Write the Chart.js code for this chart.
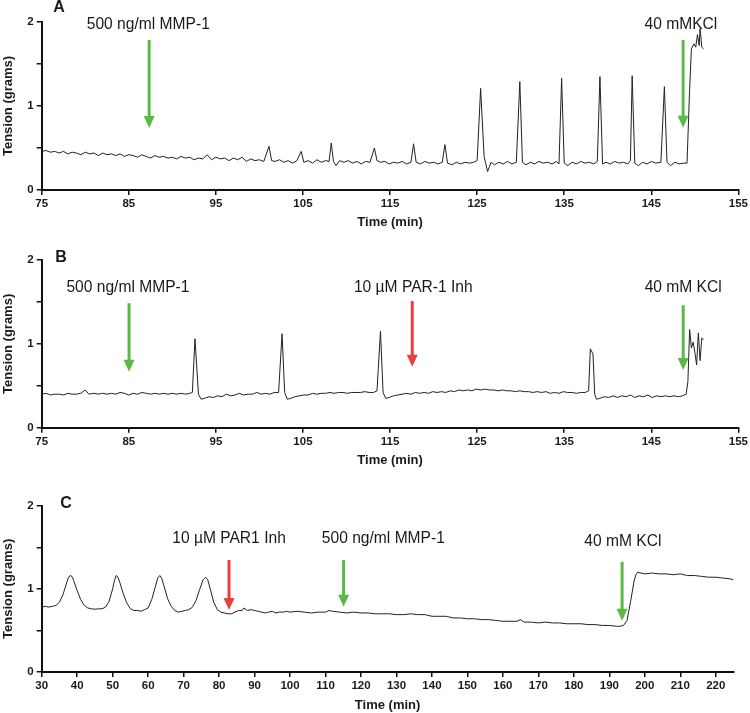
<!DOCTYPE html>
<html lang="en">

<head>
    <meta charset="UTF-8">
    <title>Tension traces</title>
    <script src="https://cdn.jsdelivr.net/npm/chart.js"></script>
    <style>
        body { margin: 0; background: #fff; }
        .wrap { position: relative; width: 750px; height: 713px; }
        .wrap canvas { position: absolute; left: 0; }
    </style>
</head>

<body>
    <div class="wrap">
        <canvas id="panelA" width="750" height="230" style="top:0px"></canvas>
        <canvas id="panelB" width="750" height="240" style="top:230px"></canvas>
        <canvas id="panelC" width="750" height="253" style="top:460px"></canvas>
    </div>
</body>

</html>
<script>
    // ---- panel A : MMP-1 then KCl
    var timeA = [75.0, 75.5, 76.0, 76.5, 77.0, 77.5, 78.0, 78.5, 79.0, 79.5, 80.0, 80.5, 81.0, 81.5, 82.0, 82.5, 83.0, 83.5, 84.0, 84.5,
        85.0, 85.5, 86.0, 86.5, 87.0, 87.5, 88.0, 88.5, 89.0, 89.5, 90.0, 90.5, 91.0, 91.5, 92.0, 92.5, 93.0, 93.5, 94.0, 94.5,
        95.0, 95.5, 96.0, 96.5, 97.0, 97.5, 98.0, 98.5, 99.0, 99.5, 100.0, 100.5, 101.1, 101.4, 101.8, 102.3, 102.8, 103.3, 103.8, 104.3,
        104.8, 105.1, 105.6, 106.1, 106.6, 107.1, 107.6, 108.0, 108.25, 108.5, 108.8, 109.2, 109.7, 110.2, 110.7, 111.2, 111.7, 112.2, 112.7, 113.2,
        113.5, 113.9, 114.4, 114.9, 115.4, 115.9, 116.4, 116.9, 117.4, 117.7, 118.0, 118.5, 119.0, 119.5, 120.0, 120.5, 121.0, 121.3, 121.6, 122.1,
        122.6, 123.1, 123.6, 124.1, 124.6, 125.0, 125.4, 125.8, 126.2, 126.6, 127.0, 127.5, 128.0, 128.5, 129.0, 129.5, 129.9, 130.2, 130.6, 131.1,
        131.6, 132.1, 132.6, 133.1, 133.6, 134.1, 134.4, 134.7, 135.0, 135.4, 135.9, 136.4, 136.9, 137.4, 137.9, 138.4, 138.8, 139.1, 139.4, 139.8,
        140.3, 140.8, 141.3, 141.8, 142.3, 142.6, 142.8, 143.1, 143.5, 144.0, 144.5, 145.0, 145.5, 146.1, 146.5, 146.8, 147.2, 147.7, 148.2, 148.7,
        149.1, 149.4, 149.6, 149.9, 150.1, 150.3, 150.5, 150.6, 150.8, 151.0];
    var tensionA = [0.46, 0.47, 0.45, 0.46, 0.44, 0.46, 0.43, 0.45, 0.44, 0.42, 0.45, 0.43, 0.44, 0.41, 0.44, 0.42, 0.43, 0.41, 0.43, 0.40,
        0.42, 0.41, 0.39, 0.42, 0.40, 0.38, 0.41, 0.39, 0.40, 0.38, 0.39, 0.37, 0.40, 0.38, 0.39, 0.36, 0.38, 0.37, 0.42, 0.36,
        0.39, 0.37, 0.38, 0.35, 0.38, 0.36, 0.39, 0.34, 0.37, 0.35, 0.36, 0.34, 0.52, 0.35, 0.34, 0.36, 0.33, 0.35, 0.32, 0.35,
        0.46, 0.33, 0.35, 0.32, 0.36, 0.33, 0.35, 0.34, 0.56, 0.34, 0.29, 0.35, 0.33, 0.35, 0.32, 0.34, 0.31, 0.34, 0.33, 0.50,
        0.35, 0.33, 0.34, 0.31, 0.33, 0.32, 0.34, 0.31, 0.33, 0.55, 0.33, 0.31, 0.34, 0.32, 0.33, 0.31, 0.33, 0.54, 0.32, 0.30,
        0.33, 0.31, 0.33, 0.32, 0.33, 0.35, 1.21, 0.40, 0.22, 0.33, 0.30, 0.33, 0.31, 0.34, 0.31, 0.33, 1.29, 0.33, 0.30, 0.33,
        0.31, 0.34, 0.32, 0.33, 0.31, 0.34, 0.31, 1.33, 0.32, 0.29, 0.33, 0.31, 0.34, 0.32, 0.33, 0.31, 0.34, 1.35, 0.31, 0.33,
        0.31, 0.34, 0.32, 0.33, 0.31, 0.35, 1.36, 0.32, 0.29, 0.33, 0.31, 0.34, 0.32, 0.33, 1.23, 0.33, 0.29, 0.33, 0.31, 0.32,
        0.32, 1.20, 1.68, 1.74, 1.70, 1.85, 1.72, 1.92, 1.70, 1.68];

    // ---- panel B : MMP-1, PAR-1 inhibitor, KCl
    var timeB = [75.0, 75.5, 76.0, 76.5, 77.0, 77.5, 78.0, 78.5, 79.0, 79.5, 80.0, 80.4, 81.0, 81.5, 82.0, 82.5, 83.0, 83.5, 84.0, 84.5,
        85.0, 85.5, 86.0, 86.5, 87.0, 87.5, 88.0, 88.5, 89.0, 89.5, 90.0, 90.5, 91.0, 91.5, 92.0, 92.3, 92.6, 93.0, 93.3, 93.7,
        94.2, 94.7, 95.2, 95.7, 96.2, 96.7, 97.2, 97.7, 98.2, 98.7, 99.2, 99.7, 100.2, 100.7, 101.2, 101.7, 102.2, 102.6, 102.9, 103.2,
        103.6, 104.1, 104.6, 105.1, 105.6, 106.1, 106.6, 107.1, 107.6, 108.1, 108.6, 109.1, 109.6, 110.1, 110.6, 111.1, 111.6, 112.1, 112.6, 113.1,
        113.5, 113.9, 114.2, 114.5, 114.9, 115.4, 115.9, 116.4, 116.9, 117.4, 117.9, 118.4, 118.9, 119.4, 119.9, 120.4, 120.9, 121.4, 121.9, 122.4,
        122.9, 123.4, 123.9, 124.4, 124.9, 125.4, 125.9, 126.4, 126.9, 127.4, 127.9, 128.4, 128.9, 129.4, 129.9, 130.4, 130.9, 131.4, 131.9, 132.4,
        132.9, 133.4, 133.9, 134.4, 134.9, 135.4, 135.9, 136.4, 136.9, 137.4, 137.8, 138.0, 138.3, 138.5, 138.7, 139.1, 139.6, 140.1, 140.6, 141.1,
        141.6, 142.1, 142.6, 143.1, 143.6, 144.1, 144.6, 145.1, 145.6, 146.1, 146.6, 147.1, 147.6, 148.1, 148.6, 149.0, 149.2, 149.4, 149.6, 149.8,
        150.0, 150.2, 150.4, 150.6, 150.8, 151.0];
    var tensionB = [0.40, 0.41, 0.39, 0.40, 0.40, 0.39, 0.41, 0.40, 0.40, 0.41, 0.45, 0.40, 0.41, 0.40, 0.41, 0.40, 0.41, 0.40, 0.42, 0.41,
        0.39, 0.41, 0.40, 0.42, 0.41, 0.40, 0.41, 0.40, 0.41, 0.40, 0.41, 0.40, 0.41, 0.40, 0.41, 0.42, 1.06, 0.40, 0.34, 0.35,
        0.37, 0.36, 0.38, 0.37, 0.40, 0.38, 0.39, 0.41, 0.39, 0.40, 0.40, 0.42, 0.40, 0.41, 0.40, 0.42, 0.42, 1.12, 0.42, 0.34,
        0.35, 0.37, 0.38, 0.39, 0.39, 0.41, 0.40, 0.41, 0.41, 0.42, 0.41, 0.42, 0.42, 0.41, 0.42, 0.42, 0.42, 0.43, 0.42, 0.42,
        0.44, 1.15, 0.42, 0.35, 0.36, 0.38, 0.39, 0.40, 0.41, 0.40, 0.42, 0.41, 0.42, 0.41, 0.43, 0.42, 0.43, 0.42, 0.44, 0.43,
        0.45, 0.44, 0.45, 0.44, 0.46, 0.45, 0.46, 0.45, 0.45, 0.44, 0.45, 0.44, 0.44, 0.43, 0.44, 0.43, 0.43, 0.42, 0.43, 0.42,
        0.43, 0.41, 0.42, 0.41, 0.43, 0.42, 0.42, 0.41, 0.42, 0.42, 0.44, 0.94, 0.88, 0.40, 0.34, 0.35, 0.37, 0.36, 0.38, 0.36,
        0.38, 0.37, 0.39, 0.36, 0.38, 0.37, 0.39, 0.36, 0.38, 0.37, 0.38, 0.37, 0.38, 0.37, 0.38, 0.40, 0.55, 1.17, 0.95, 1.02,
        0.90, 0.75, 1.13, 0.80, 1.07, 1.05];

    // ---- panel C : PAR1 inhibitor, MMP-1, KCl
    var timeC = [30, 31, 32, 33, 34, 35, 36, 37, 37.5, 38, 38.5, 39, 40, 41, 42, 43, 44, 45, 46, 47,
        48, 49, 50, 50.5, 51, 51.5, 52, 53, 54, 55, 56, 57, 58, 59, 60, 61, 62, 62.7, 63.3, 63.8,
        64.5, 65.5, 66.5, 67.5, 68.5, 69.5, 70.5, 71.5, 72.5, 73.5, 74.5, 75.5, 76.2, 76.8, 77.5, 78.5, 79.5, 80.5, 81.5, 82.5,
        83.5, 84.5, 85.5, 86.5, 87, 88, 89, 90, 91, 92, 93, 94, 95, 96, 97, 98, 99, 100, 102, 104,
        106, 108, 110, 111, 112, 114, 116, 118, 120, 122, 124, 126, 128, 130, 132, 134, 136, 138, 140, 142,
        144, 146, 148, 150, 152, 154, 156, 158, 160, 162, 164, 165, 166, 168, 170, 172, 174, 176, 178, 180,
        182, 184, 186, 188, 190, 192, 193, 194, 195, 196, 197, 197.5, 198, 199, 200, 202, 204, 206, 208, 210,
        212, 214, 216, 218, 220, 222, 224, 225];
    var tensionC = [0.78, 0.79, 0.78, 0.79, 0.80, 0.84, 0.93, 1.07, 1.13, 1.16, 1.15, 1.10, 0.98, 0.87, 0.80, 0.77, 0.76, 0.755, 0.76, 0.76,
        0.78, 0.85, 1.00, 1.10, 1.16, 1.14, 1.08, 0.94, 0.83, 0.76, 0.74, 0.74, 0.73, 0.75, 0.77, 0.87, 1.02, 1.13, 1.16, 1.13,
        1.03, 0.88, 0.79, 0.74, 0.72, 0.73, 0.74, 0.75, 0.78, 0.86, 0.99, 1.11, 1.14, 1.11, 1.00, 0.84, 0.75, 0.72, 0.71, 0.70,
        0.70, 0.72, 0.74, 0.74, 0.77, 0.74, 0.75, 0.74, 0.73, 0.72, 0.71, 0.72, 0.73, 0.71, 0.72, 0.72, 0.73, 0.72, 0.73, 0.72,
        0.71, 0.72, 0.72, 0.74, 0.73, 0.72, 0.71, 0.72, 0.71, 0.71, 0.70, 0.70, 0.70, 0.69, 0.69, 0.70, 0.69, 0.69, 0.67, 0.67,
        0.67, 0.65, 0.65, 0.64, 0.64, 0.63, 0.63, 0.62, 0.61, 0.61, 0.61, 0.63, 0.60, 0.60, 0.59, 0.60, 0.59, 0.59, 0.58, 0.58,
        0.58, 0.57, 0.57, 0.56, 0.56, 0.55, 0.55, 0.56, 0.62, 0.85, 1.10, 1.17, 1.20, 1.19, 1.18, 1.19, 1.18, 1.18, 1.17, 1.18,
        1.16, 1.16, 1.15, 1.14, 1.14, 1.13, 1.12, 1.11];

    // axis ticks
    var xTicksAB = [75, 85, 95, 105, 115, 125, 135, 145, 155];
    var xTicksC = [30, 40, 50, 60, 70, 80, 90, 100, 110, 120, 130, 140, 150, 160, 170, 180, 190, 200, 210, 220];
    var yTicks = [0, 0.5, 1, 1.5, 2];

    // treatments: label text, where the label sits (min, grams), arrow time and arrow span
    var labelsA = ['500 ng/ml MMP-1', '40 mMKCl'];
    var labelTimeA = [87.24, 148.4];
    var labelLevelA = [1.964, 1.964];
    var arrowTimeA = [87.34, 148.65];
    var arrowTopA = [1.786, 1.786];
    var arrowTipA = [0.738, 0.74];
    var arrowKindA = ['green', 'green'];

    var labelsB = ['500 ng/ml MMP-1', '10 µM PAR-1 Inh', '40 mM KCl'];
    var labelTimeB = [84.9, 117.67, 148.66];
    var labelLevelB = [1.675, 1.675, 1.675];
    var arrowTimeB = [85.03, 117.55, 148.66];
    var arrowTopB = [1.485, 1.51, 1.46];
    var arrowTipB = [0.667, 0.726, 0.687];
    var arrowKindB = ['green', 'red', 'green'];

    var labelsC = ['10 µM PAR1 Inh', '500 ng/ml MMP-1', '40 mM KCl'];
    var labelTimeC = [82.8, 126.3, 193.8];
    var labelLevelC = [1.60, 1.60, 1.566];
    var arrowTimeC = [82.8, 115.1, 193.6];
    var arrowTopC = [1.346, 1.346, 1.325];
    var arrowTipC = [0.745, 0.785, 0.617];
    var arrowKindC = ['red', 'green', 'green'];

    var corFonte = '#1a1a1a';
    var cores = { green: '#5cb946', red: '#e8413c' };
    var fam = "'Liberation Sans', Arial, Helvetica, sans-serif";

    // draws treatment arrows, their labels and the panel letter
    const marcadores = {
        id: 'marcadores',
        afterDatasetsDraw(chart, args, opts) {
            const ctx = chart.ctx;
            const x = chart.scales.x;
            const y = chart.scales.y;
            ctx.save();
            for (let i = 0; i < opts.arrowTime.length; i++) {
                const px = x.getPixelForValue(opts.arrowTime[i]);
                const top = y.getPixelForValue(opts.arrowTop[i]);
                const tip = y.getPixelForValue(opts.arrowTip[i]);
                const cor = cores[opts.arrowKind[i]];
                ctx.strokeStyle = cor;
                ctx.fillStyle = cor;
                ctx.lineWidth = 3;
                ctx.beginPath();
                ctx.moveTo(px, top);
                ctx.lineTo(px, tip - 10);
                ctx.stroke();
                ctx.beginPath();
                ctx.moveTo(px - 5.5, tip - 12);
                ctx.lineTo(px + 5.5, tip - 12);
                ctx.lineTo(px, tip);
                ctx.closePath();
                ctx.fill();
            }
            ctx.fillStyle = corFonte;
            ctx.font = '15.6px ' + fam;
            ctx.textAlign = 'center';
            ctx.textBaseline = 'middle';
            for (let i = 0; i < opts.labels.length; i++) {
                ctx.fillText(opts.labels[i], x.getPixelForValue(opts.labelTime[i]), y.getPixelForValue(opts.labelLevel[i]));
            }
            ctx.font = 'bold 16px ' + fam;
            ctx.fillText(opts.letter, opts.letterPos[0], opts.letterPos[1]);
            ctx.restore();
        }
    };

    function montarPainel(id, tempos, valores, cfg) {
        var pontos = [];
        for (var i = 0; i < tempos.length; i++) {
            pontos.push({ x: tempos[i], y: valores[i] });
        }
        new Chart(document.getElementById(id), {
            type: 'line',
            data: {
                datasets: [{
                    data: pontos,
                    borderColor: '#222',
                    borderWidth: 1,
                    pointRadius: 0,
                    tension: 0
                }]
            },
            options: {
                responsive: false,
                animation: false,
                devicePixelRatio: 1,
                layout: { padding: { top: cfg.top, right: cfg.right, left: 0, bottom: 0 } },
                plugins: {
                    legend: { display: false },
                    tooltip: { enabled: false },
                    marcadores: cfg.marcas
                },
                scales: {
                    x: {
                        type: 'linear',
                        min: cfg.xMin,
                        max: cfg.xMax,
                        afterBuildTicks: s => { s.ticks = cfg.xTicks.map(v => ({ value: v })); },
                        afterFit: s => { s.height = cfg.xHeight; },
                        grid: { drawOnChartArea: false, drawTicks: true, tickLength: 5, color: '#111', lineWidth: 1.5 },
                        border: { display: true, color: '#111', width: 2 },
                        ticks: { color: corFonte, padding: 2, maxRotation: 0, autoSkip: false, font: { family: fam, size: 11.5, weight: 'bold' } },
                        title: { display: true, text: 'Time (min)', color: corFonte, padding: { top: 0, bottom: cfg.titlePad }, font: { family: fam, size: 13, weight: 'bold' } }
                    },
                    y: {
                        min: 0,
                        max: 2,
                        afterBuildTicks: s => { s.ticks = yTicks.map(v => ({ value: v })); },
                        afterFit: s => { s.width = 41.7; },
                        grid: { drawOnChartArea: false, drawTicks: true, tickLength: 5, color: '#111', lineWidth: 1.5 },
                        border: { display: true, color: '#111', width: 2 },
                        ticks: {
                            color: corFonte, padding: 3, font: { family: fam, size: 11.5, weight: 'bold' },
                            callback: v => Number.isInteger(v) ? v : ''
                        },
                        title: { display: true, text: 'Tension (grams)', color: corFonte, padding: { top: 0.5, bottom: 0 }, font: { family: fam, size: 13, weight: 'bold' } }
                    }
                }
            },
            plugins: [marcadores]
        });
    }

    montarPainel('panelA', timeA, tensionA, {
        top: 22, right: 10.7, xMin: 75, xMax: 155, xTicks: xTicksAB, xHeight: 40, titlePad: 0,
        marcas: { labels: labelsA, labelTime: labelTimeA, labelLevel: labelLevelA, arrowTime: arrowTimeA, arrowTop: arrowTopA, arrowTip: arrowTipA, arrowKind: arrowKindA, letter: 'A', letterPos: [59, 8] }
    });
    montarPainel('panelB', timeB, tensionB, {
        top: 30, right: 10.7, xMin: 75, xMax: 155, xTicks: xTicksAB, xHeight: 42.3, titlePad: 2.2,
        marcas: { labels: labelsB, labelTime: labelTimeB, labelLevel: labelLevelB, arrowTime: arrowTimeB, arrowTop: arrowTopB, arrowTip: arrowTipB, arrowKind: arrowKindB, letter: 'B', letterPos: [61, 27.5] }
    });
    montarPainel('panelC', timeC, tensionC, {
        top: 45.7, right: 16.5, xMin: 30, xMax: 225, xTicks: xTicksC, xHeight: 41, titlePad: 0,
        marcas: { labels: labelsC, labelTime: labelTimeC, labelLevel: labelLevelC, arrowTime: arrowTimeC, arrowTop: arrowTopC, arrowTip: arrowTipC, arrowKind: arrowKindC, letter: 'C', letterPos: [66, 43.5] }
    });
</script>
